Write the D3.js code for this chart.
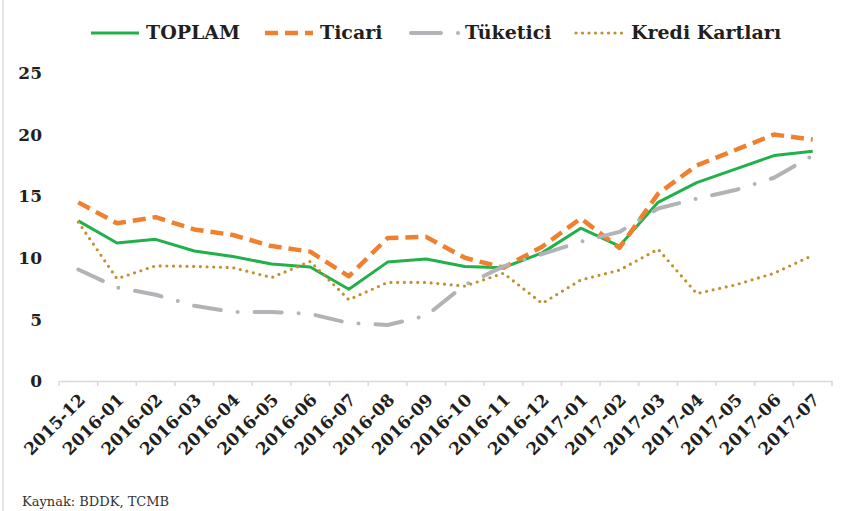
<!DOCTYPE html>
<html>
<head>
<meta charset="utf-8">
<script src="https://cdnjs.cloudflare.com/ajax/libs/d3/7.8.5/d3.min.js"></script>
<style>
    body { margin: 0; background: #fff; }
    .lbl { font-family: "DejaVu Serif", serif; font-weight: bold; fill: #231f20; }
    .src { font-family: "DejaVu Serif", serif; font-size: 13px; fill: #333; }
</style>
</head>
<body>
<div id="chart"></div>
<script>
(function() {

    var months = ['2015-12', '2016-01', '2016-02', '2016-03', '2016-04', '2016-05', '2016-06',
                  '2016-07', '2016-08', '2016-09', '2016-10', '2016-11', '2016-12', '2017-01',
                  '2017-02', '2017-03', '2017-04', '2017-05', '2017-06', '2017-07'];

    var toplam   = [13.0, 11.2, 11.5, 10.55, 10.1, 9.5, 9.25, 7.45, 9.65, 9.9,
                    9.3, 9.2, 10.4, 12.4, 10.95, 14.5, 16.1, 17.2, 18.3, 18.65];
    var ticari   = [14.5, 12.8, 13.3, 12.3, 11.85, 10.95, 10.5, 8.5, 11.6, 11.7,
                    10.0, 9.2, 10.9, 13.2, 10.8, 15.2, 17.5, 18.75, 20.0, 19.6];
    var tuketici = [9.05, 7.6, 7.0, 6.1, 5.6, 5.6, 5.45, 4.7, 4.55, 5.3,
                    7.8, 9.3, 10.3, 11.3, 12.1, 14.0, 14.8, 15.5, 16.5, 18.3];
    var kredi    = [12.9, 8.3, 9.35, 9.3, 9.2, 8.4, 9.7, 6.6, 8.0, 8.0,
                    7.7, 8.75, 6.3, 8.2, 9.0, 10.7, 7.1, 7.8, 8.75, 10.2];

    var yTicks = [0, 5, 10, 15, 20, 25];

    var series = [
        { 'lbl': 'TOPLAM', 'values': toplam, 'color': '#22b04b', 'width': 3, 'dash': null, 'cap': 'butt' },
        { 'lbl': 'Ticari', 'values': ticari, 'color': '#f0802e', 'width': 4.5, 'dash': '13,7', 'cap': 'butt' },
        { 'lbl': 'Tüketici', 'values': tuketici, 'color': '#b3b3b7', 'width': 4, 'dash': '27,17,0,17', 'cap': 'round' },
        { 'lbl': 'Kredi Kartları', 'values': kredi, 'color': '#c0912e', 'width': 3.2, 'dash': '0,6.7', 'cap': 'round' }
    ];

    var width = 850;
    var height = 511;

    var svg = d3.select('#chart').append('svg')
        .attr('width', width)
        .attr('height', height);

    // left border of the frame
    svg.append('line')
        .attr('x1', 3).attr('x2', 3)
        .attr('y1', 0).attr('y2', height)
        .attr('stroke', '#dcdcdc')
        .attr('stroke-width', 1.5);

    var x = d3.scaleBand()
        .domain(months)
        .range([59, 832]);

    var y = d3.scaleLinear()
        .domain([0, 25])
        .range([381, 73]);

    var cx = function(i) { return x(months[i]) + x.bandwidth() / 2; };

    // y axis labels
    svg.selectAll('.ytick')
        .data(yTicks)
        .enter()
        .append('text')
        .attr('class', 'lbl ytick')
        .attr('x', 42)
        .attr('y', function(d) { return y(d); })
        .attr('dy', '0.36em')
        .attr('text-anchor', 'end')
        .style('font-size', '17px')
        .text(function(d) { return d; });

    // x axis
    var xAxis = svg.append('g')
        .attr('transform', 'translate(0,' + y(0) + ')')
        .call(d3.axisBottom(x).tickSize(0).tickFormat(''));
    xAxis.select('.domain').attr('stroke', '#d9d9d9').attr('stroke-width', 1.5);

    var bounds = months.map(function(m) { return x(m); }).concat([x.range()[1]]);
    svg.selectAll('.xtick')
        .data(bounds)
        .enter()
        .append('line')
        .attr('x1', function(d) { return d; })
        .attr('x2', function(d) { return d; })
        .attr('y1', y(0))
        .attr('y2', y(0) + 5)
        .attr('stroke', '#d9d9d9')
        .attr('stroke-width', 1.5);

    svg.selectAll('.xlbl')
        .data(months)
        .enter()
        .append('text')
        .attr('class', 'lbl xlbl')
        .attr('text-anchor', 'end')
        .attr('transform', function(d, i) {
            return 'translate(' + (cx(i) + 8) + ',' + 401 + ') rotate(-45)';
        })
        .style('font-size', '17px')
        .text(function(d) { return d; });

    // lines
    var line = d3.line()
        .x(function(d, i) { return cx(i); })
        .y(function(d) { return y(d); });

    svg.selectAll('.serie')
        .data(series)
        .enter()
        .append('path')
        .attr('class', 'serie')
        .attr('d', function(d) { return line(d.values); })
        .attr('fill', 'none')
        .attr('stroke', function(d) { return d.color; })
        .attr('stroke-width', function(d) { return d.width; })
        .attr('stroke-dasharray', function(d) { return d.dash; })
        .attr('stroke-linecap', function(d) { return d.cap; })
        .attr('stroke-linejoin', 'round');

    // legend
    var legendX = [91, 265, 409, 576];
    var legendDash = [null, '13,7', '30,17,0,60', '0,6.5'];
    var leg = svg.selectAll('.leg')
        .data(series)
        .enter()
        .append('g')
        .attr('class', 'leg')
        .attr('transform', function(d, i) { return 'translate(' + legendX[i] + ',0)'; });

    leg.append('line')
        .attr('x1', function(d, i) { return i == 2 ? 2 : 0; })
        .attr('x2', function(d, i) { return i == 2 ? 52 : (i == 3 ? 46 : 48); })
        .attr('y1', 33).attr('y2', 33)
        .attr('stroke', function(d) { return d.color; })
        .attr('stroke-width', function(d) { return d.width; })
        .attr('stroke-dasharray', function(d, i) { return legendDash[i]; })
        .attr('stroke-linecap', function(d) { return d.cap; });

    leg.append('text')
        .attr('class', 'lbl')
        .attr('x', function(d, i) { return i == 2 ? 56 : 55; })
        .attr('y', 39)
        .style('font-size', '19px')
        .text(function(d) { return d.lbl; });

    svg.append('text')
        .attr('class', 'src')
        .attr('x', 22)
        .attr('y', 506)
        .text('Kaynak: BDDK, TCMB');

})();
</script>
</body>
</html>
